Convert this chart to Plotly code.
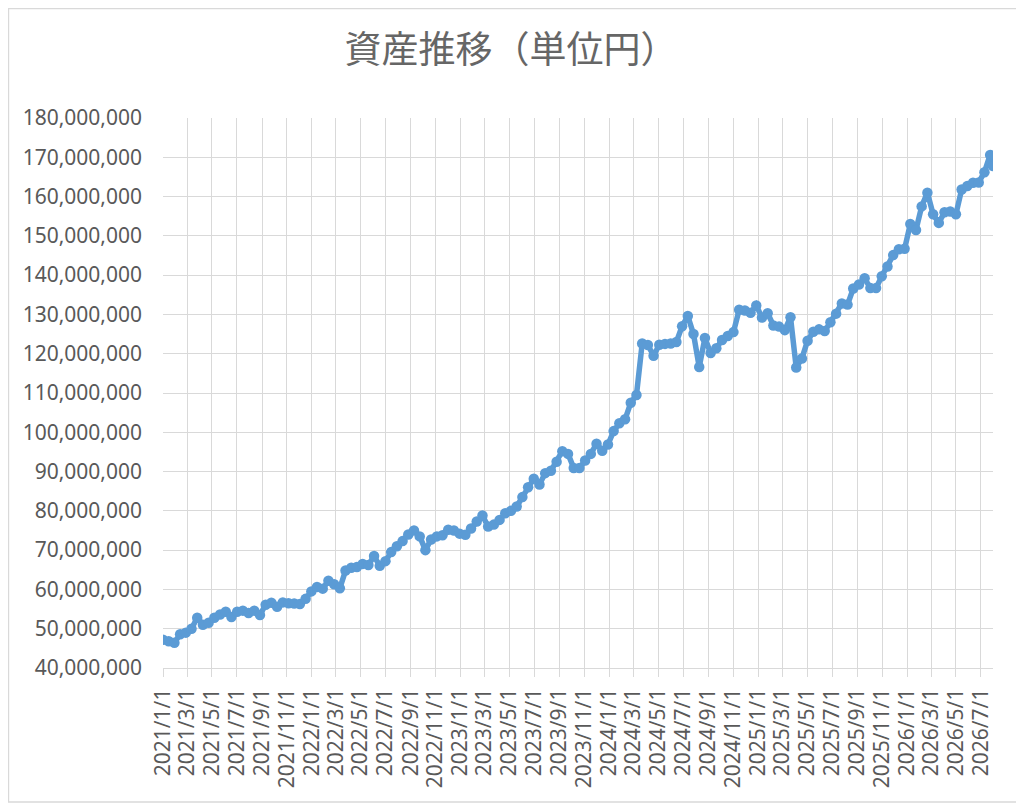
import numpy as np
import pandas as pd
import plotly.graph_objects as go

# Asset balance, read every 2 weeks from the chart (unit: million yen)
values_m = [
    47.2, 46.8, 46.4, 48.6, 49.0, 50.0, 52.8, 51.0, 51.5, 52.8,
    53.6, 54.3, 53.0, 54.3, 54.6, 54.0, 54.6, 53.5, 56.1, 56.6,
    55.6, 56.7, 56.5, 56.4, 56.3, 57.6, 59.5, 60.6, 60.2, 62.2,
    61.3, 60.3, 64.8, 65.5, 65.7, 66.5, 66.2, 68.5, 66.0, 67.2,
    69.5, 71.0, 72.3, 74.0, 75.0, 73.5, 70.0, 72.7, 73.5, 73.8,
    75.2, 75.0, 74.2, 73.9, 75.5, 77.3, 78.8, 76.0, 76.5, 77.7,
    79.4, 80.0, 81.1, 83.5, 86.0, 88.2, 86.7, 89.6, 90.2, 92.5,
    95.2, 94.5, 90.9, 90.9, 92.8, 94.5, 97.1, 95.3, 96.9, 100.3,
    102.3, 103.3, 107.5, 109.5, 122.6, 122.2, 119.5, 122.3, 122.5, 122.6,
    123.0, 127.0, 129.6, 125.0, 116.6, 124.0, 120.2, 121.4, 123.5, 124.5,
    125.5, 131.2, 131.0, 130.4, 132.3, 129.2, 130.3, 127.2, 126.9, 126.0,
    129.3, 116.5, 118.8, 123.3, 125.6, 126.2, 125.8, 128.0, 130.2, 132.8,
    132.5, 136.6, 137.6, 139.2, 136.7, 136.7, 139.7, 142.2, 145.1, 146.6,
    146.7, 153.0, 151.5, 157.5, 161.0, 155.5, 153.3, 156.0, 156.2, 155.5,
    161.8, 162.7, 163.5, 163.6, 166.2, 170.6, 167.8,
]
dates = list(pd.date_range("2021-01-01", periods=146, freq="14D")) + [pd.Timestamp("2026-07-31")]
assets = np.array(values_m) * 1_000_000

title_text = "資産推移（単位円）"
grid = "#d9d9d9"
text_col = "#595959"

fig = go.Figure()
fig.add_trace(go.Scatter(
    x=dates, y=assets, mode="lines+markers",
    line=dict(color="#5b9bd5", width=5.5),
    marker=dict(color="#5b9bd5", size=10.5),
    showlegend=False,
))

# the page adds an 8px body margin, so the figure is 16px smaller
fig.update_layout(
    width=1016, height=798,
    margin=dict(l=155, r=31, t=110, b=138),
    paper_bgcolor="white", plot_bgcolor="white",
    title=dict(text=title_text, x=503 / 1016, xanchor="center",
               y=1 - 42 / 798, yanchor="middle",
               font=dict(family="Noto Sans CJK JP", size=37, color="#666666")),
    font=dict(family="Noto Sans", size=21, color=text_col),
)

fig.update_xaxes(
    type="date", range=["2021-01-01", "2026-07-31"],
    tick0="2021-01-01", dtick="M2", tickformat="%Y/%-m/%-d",
    tickangle=-90, showgrid=True, gridcolor=grid, gridwidth=1.3,
    ticks="outside", ticklen=8, tickcolor=grid, tickwidth=1.3,
    showline=True, linecolor=grid, linewidth=1.3,
    ticklabelstandoff=3, zeroline=False,
)
fig.update_yaxes(
    range=[40_000_000, 180_000_000], dtick=10_000_000, tickformat=",d",
    showgrid=True, gridcolor=grid, gridwidth=1.3,
    showline=False, zeroline=False, ticks="", ticklabelstandoff=20,
)

# chart frame
fig.add_shape(type="rect", xref="paper", yref="paper",
              x0=-0.1861, x1=1.0349, y0=-0.2436, y1=1.1991,
              line=dict(color=grid, width=1.3), layer="below")

fig.write_html("out.html")
